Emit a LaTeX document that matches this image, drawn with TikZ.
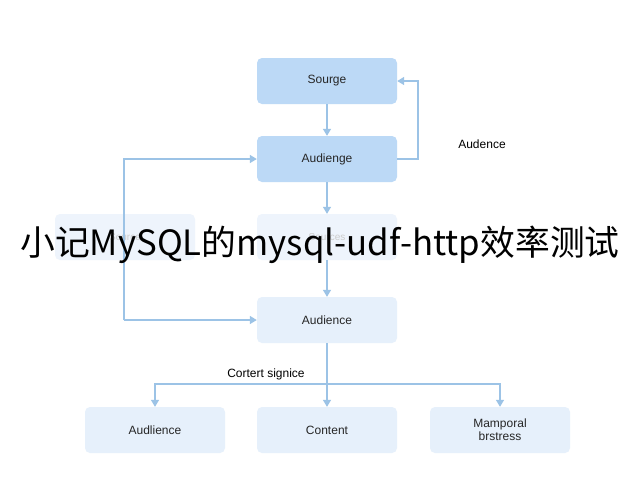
\documentclass[tikz,border=0pt]{standalone}
\usepackage{fontspec}
\setmainfont{Liberation Sans}
\newfontfamily\cjk{Noto Sans CJK SC}
\usetikzlibrary{arrows.meta}
\definecolor{dark}{HTML}{BCD9F6}
\definecolor{light}{HTML}{E6F0FB}
\definecolor{faint}{HTML}{EEF4FC}
\definecolor{ln}{HTML}{9CC3E6}
\begin{document}
\begin{tikzpicture}[x=1pt,y=-1pt,
  box/.style={draw=none,rounded corners=5pt,minimum width=140pt,minimum height=46pt,inner sep=0pt,align=center,font=\fontsize{12}{13}\selectfont,text=black!85},
  arr/.style={draw=ln,line width=1.3pt,-{Triangle[width=8pt,length=7pt]}},
  ln/.style={draw=ln,line width=1.3pt}]
\useasboundingbox (0,0) rectangle (640,480);
\fill[white] (0,0) rectangle (640,480);
\node[box,fill=dark] (s) at (327,81) {Sourge};
\node[box,fill=dark] (a1) at (327,159) {Audienge};
\node[box,fill=faint,text=black!20,font=\fontsize{10}{12}\selectfont] (l) at (125,237) {Source};
\node[box,fill=faint,text=black!20,font=\fontsize{10}{12}\selectfont] (m) at (327,237) {Sources};
\node[box,fill=light] (a2) at (327,320) {Audience};
\node[box,fill=light] (b1) at (155,430) {Audlience};
\node[box,fill=light] (b2) at (327,430) {Content};
\node[box,fill=light] (b3) at (500,430) {Mamporal\\brstress};
\coordinate (r1) at (418,159);
\coordinate (r2) at (418,81);
\coordinate (lt) at (124,159);
\coordinate (lb) at (124,320);
\coordinate (h1) at (155,384);
\coordinate (h2) at (327,384);
\coordinate (h3) at (500,384);
\draw[arr] (s) -- (a1);
\draw[arr] (a1) -- (m);
\draw[arr] (m) -- (a2);
\draw[arr] (a1.east) -- (r1) -- (r2) -- (s.east);
\node[font=\fontsize{12}{13}\selectfont] (al) at (482,144) {Audence};
\draw[arr] (lb) -- (lt) -- (a1.west);
\draw[arr] (lb) -- (a2.west);
\draw[ln] (a2) -- (h2);
\draw[arr] (h2) -- (b2);
\draw[arr] (h2) -- (h1) -- (b1);
\draw[arr] (h2) -- (h3) -- (b3);
\node[font=\fontsize{12}{13}\selectfont] (cl) at (266,374) {Cortert signice};
\node[font=\cjk\fontsize{34.8}{36}\selectfont,inner sep=0pt] (t) at (320,245) {小记MySQL的mysql-udf-http效率测试};
\end{tikzpicture}
\end{document}
